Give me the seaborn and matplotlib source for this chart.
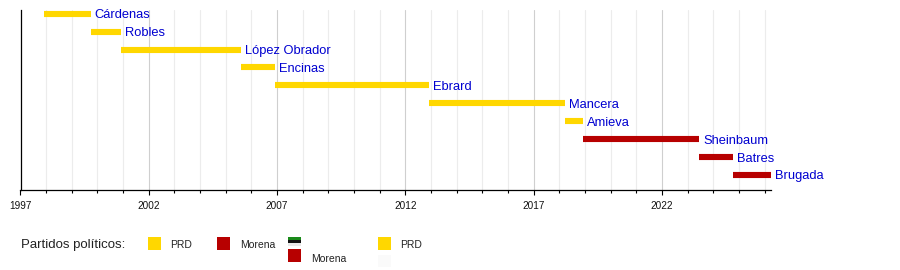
import matplotlib
matplotlib.use('Agg')
import matplotlib.pyplot as plt
import seaborn as sns
import pandas as pd
from matplotlib.patches import Rectangle
from matplotlib.ticker import FixedLocator, MultipleLocator

# ---- data ----
names = ['Cárdenas', 'Robles', 'López Obrador', 'Encinas', 'Ebrard',
         'Mancera', 'Amieva', 'Sheinbaum', 'Batres', 'Brugada']
starts = [1997.92, 1999.74, 2000.93, 2005.58, 2006.93,
          2012.93, 2018.24, 2018.93, 2023.46, 2024.76]
ends = [1999.74, 2000.93, 2005.58, 2006.93, 2012.93,
        2018.24, 2018.93, 2023.46, 2024.76, 2026.25]
parties = ['PRD', 'PRD', 'PRD', 'PRD', 'PRD', 'PRD', 'PRD',
           'Morena', 'Morena', 'Morena']
tick_years = [1997, 2002, 2007, 2012, 2017, 2022]
party_colors = {'PRD': '#FFD700', 'Morena': '#B70000'}
legend_title = 'Partidos políticos:'

rows = []
for i, (n, s, e, p) in enumerate(zip(names, starts, ends, parties)):
    rows.append({'name': n, 'row': i, 'year': s, 'party': p})
    rows.append({'name': n, 'row': i, 'year': e, 'party': p})
df = pd.DataFrame(rows)

sns.set_style('white')
plt.rcParams['font.family'] = ['Liberation Sans', 'DejaVu Sans']

W, H = 900, 270
fig = plt.figure(figsize=(9, 2.7), dpi=100)
ax = fig.add_axes([20.5 / W, 1 - 190 / H, 750.5 / W, 180 / H])

sns.lineplot(data=df, x='year', y='row', units='name', estimator=None,
             hue='party', palette=party_colors, linewidth=4.4, sort=False,
             legend=False, ax=ax, solid_capstyle='butt')

for i, (n, e) in enumerate(zip(names, ends)):
    ax.annotate(n, xy=(e, i), xytext=(4, -4.5), textcoords='offset pixels',
                va='baseline', ha='left', color='#0000d0', fontsize=9.3,
                annotation_clip=False)

ax.set_xlim(1997, 2026.25)
ax.set_ylim(9.84, -0.21)
ax.set_xlabel('')
ax.set_ylabel('')
ax.set_yticks([])
ax.xaxis.set_major_locator(FixedLocator(tick_years))
ax.set_xticklabels([str(y) for y in tick_years])
ax.xaxis.set_minor_locator(MultipleLocator(1))
ax.tick_params(axis='x', which='major', direction='out', length=3.6, width=0.8,
               color='black', labelsize=7.2, pad=4.5, bottom=True,
               labelcolor='#111111')
ax.tick_params(axis='x', which='minor', direction='out', length=2.2, width=0.8,
               color='black', bottom=True)
ax.grid(which='major', axis='x', color='#cfcfcf', lw=0.8)
ax.grid(which='minor', axis='x', color='#ececec', lw=0.8)
ax.grid(False, axis='y')
ax.set_axisbelow(True)
for s in ['top', 'right']:
    ax.spines[s].set_visible(False)
for s in ['left', 'bottom']:
    ax.spines[s].set_color('black')
    ax.spines[s].set_linewidth(0.9)


def rect(x, y, w, h, color):
    fig.add_artist(Rectangle((x / W, 1 - (y + h) / H), w / W, h / H,
                             transform=fig.transFigure, facecolor=color,
                             edgecolor='none'))


def ftext(x, y, s, size):
    fig.text(x / W, 1 - y / H, s, fontsize=size, va='baseline', ha='left',
             color='#222222')


ftext(20.7, 248, legend_title, 9.5)
rect(148, 237, 13, 13, party_colors['PRD'])
ftext(170, 248.3, 'PRD', 7.5)
rect(217, 237, 13, 13, party_colors['Morena'])
ftext(240, 248.3, 'Morena', 7.5)
# flag-like icon
rect(288, 237, 13, 2.7, '#1a8a1a')
rect(288, 239.7, 13, 3, '#111111')
rect(288, 242.7, 13, 3.5, '#e8e8e8')
rect(288, 249.3, 13, 12.5, party_colors['Morena'])
ftext(310.7, 261.7, 'Morena', 7.5)
rect(378, 237, 13, 13, party_colors['PRD'])
rect(378, 255, 13, 12, '#fafafa')
ftext(400, 248.3, 'PRD', 7.5)

fig.savefig('out.png', dpi=100)
